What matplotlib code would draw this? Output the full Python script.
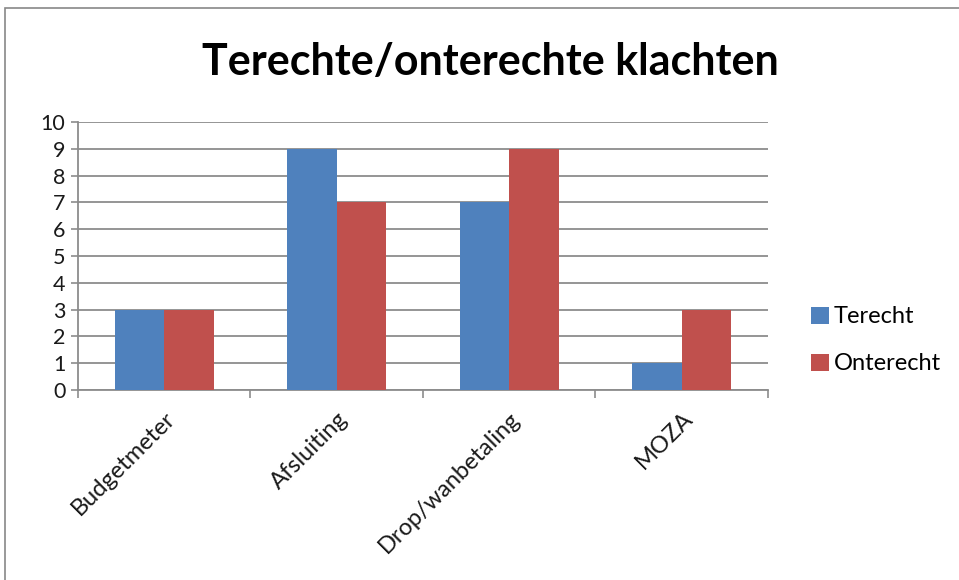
import numpy as np
import matplotlib
matplotlib.use("Agg")
import matplotlib.pyplot as plt
from matplotlib.patches import Rectangle, Patch

# Data
categories = ["Budgetmeter", "Afsluiting", "Drop/wanbetaling", "MOZA"]
terecht = [3, 9, 7, 1]
onterecht = [3, 7, 9, 3]
series_names = ["Terecht", "Onterecht"]
yticks = list(range(0, 11))

blue = "#4F81BD"
red = "#C0504D"
grid_gray = "#8C8C8C"

plt.rcParams["font.family"] = ["Lato", "DejaVu Sans"]

fig = plt.figure(figsize=(9.59, 5.8), dpi=100)
ax = fig.add_axes([0.0813, 0.3276, 0.7195, 0.4621])

# Outer chart frame (left and top visible)
fig.patches.append(Rectangle((5 / 959, -0.05), 1.2, 1 - 8 / 580 + 0.05,
                             transform=fig.transFigure, fill=False,
                             edgecolor="#888888", linewidth=1.2))

x = np.arange(len(categories))
w = 0.2857
ax.bar(x - w / 2, terecht, width=w, color=blue, label=series_names[0], zorder=3)
ax.bar(x + w / 2, onterecht, width=w, color=red, label=series_names[1], zorder=3)

ax.set_xlim(-0.5, len(categories) - 0.5)
ax.set_ylim(0, 10)
ax.set_yticks(yticks)
ax.set_yticklabels([str(v) for v in yticks], fontsize=15.5, color="#1a1a1a")
ax.yaxis.grid(True, color=grid_gray, linewidth=1.3, zorder=0)
ax.tick_params(axis="y", length=5, color=grid_gray, width=1.2, pad=4)

ax.set_xticks(x)
ax.set_xticklabels(categories, rotation=45, ha="right", rotation_mode="anchor",
                   fontsize=17, color="#1a1a1a")
ax.tick_params(axis="x", length=0, pad=13)
ax.set_xticks(np.arange(-0.5, len(categories)), minor=True)
ax.tick_params(axis="x", which="minor", length=6, color=grid_gray, width=1.2)

for side in ["top", "right"]:
    ax.spines[side].set_visible(False)
for side in ["left", "bottom"]:
    ax.spines[side].set_color(grid_gray)
    ax.spines[side].set_linewidth(1.3)

fig.text(0.511, 0.893, "Terechte/onterechte klachten", ha="center", va="center",
         fontsize=31, fontweight="bold", color="black")

handles = [Patch(facecolor=blue, label=series_names[0]),
           Patch(facecolor=red, label=series_names[1])]
fig.legend(handles=handles, loc="center left", bbox_to_anchor=(0.846, 0.413),
           frameon=False, fontsize=17, handlelength=0.75, handleheight=0.75,
           handletextpad=0.2, labelspacing=1.1, borderpad=0, borderaxespad=0)

fig.savefig("out.png", dpi=100, facecolor="white")
